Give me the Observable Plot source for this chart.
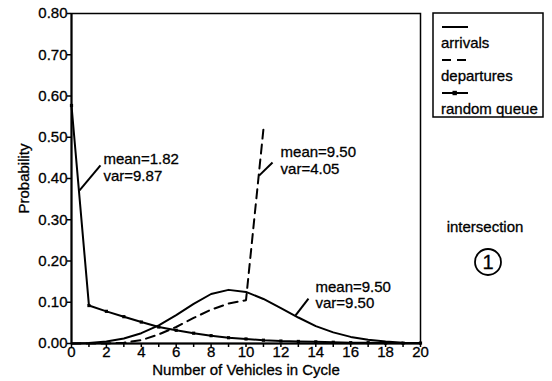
<!DOCTYPE html>
<html><head><meta charset="utf-8">
<script src="https://cdn.jsdelivr.net/npm/d3@7"></script>
<script src="https://cdn.jsdelivr.net/npm/@observablehq/plot@0.6"></script>
<style>body{margin:0;background:#fff} svg{display:block} svg text{stroke:black;stroke-width:0.3px}</style>
</head><body><div id="chart"></div>
<script>
// ---- data ----
const vehicles = [0,1,2,3,4,5,6,7,8,9,10,11,12,13,14,15,16,17,18,19,20];
const arrivals = [0.000,0.001,0.005,0.012,0.025,0.044,0.069,0.096,0.120,0.130,0.125,0.108,0.086,0.063,0.042,0.027,0.016,0.009,0.005,0.002,0.001];
const departureVehicles = [0,1,2,3,4,5,6,7,8,9,10,11];
const departures = [0.000,0.000,0.000,0.002,0.008,0.022,0.040,0.062,0.082,0.097,0.105,0.520];
const randomQueue = [0.577,0.092,0.078,0.065,0.052,0.040,0.032,0.025,0.019,0.014,0.011,0.008,0.006,0.005,0.004,0.003,0.002,0.002,0.001,0.001,0.001];
const yTicks = [0,0.1,0.2,0.3,0.4,0.5,0.6,0.7,0.8];
const xTickLabels = [0,2,4,6,8,10,12,14,16,18,20];
const seriesNames = ["arrivals","departures","random queue"];
const noteText = ["mean=1.82\nvar=9.87","mean=9.50\nvar=4.05","mean=9.50\nvar=9.50"];
const noteX = [1.83, 11.98, 13.98];
const noteY = [0.427, 0.444, 0.118];
const leaderX1 = [0.46, 10.75, 12.84];
const leaderY1 = [0.371, 0.407, 0.068];
const leaderX2 = [1.66, 11.52, 13.58];
const leaderY2 = [0.432, 0.439, 0.109];
const intersectionLabel = "intersection";
const intersectionNumber = "1";

const arrRows = vehicles.map((v,i)=>({x:v, y:arrivals[i]}));
const depRows = departureVehicles.map((v,i)=>({x:v, y:departures[i]}));
const rqRows = vehicles.map((v,i)=>({x:v, y:randomQueue[i]}));
const notes = noteText.map((t,i)=>({t, x:noteX[i], y:noteY[i]}));
const leaders = leaderX1.map((x,i)=>({x1:x, y1:leaderY1[i], x2:leaderX2[i], y2:leaderY2[i]}));

const FONT = "'Liberation Sans', Arial, Helvetica, sans-serif";

const chart = Plot.plot({
  width: 552, height: 381,
  marginLeft: 71, marginRight: 132, marginTop: 13, marginBottom: 38,
  x: {domain: [0, 20]},
  y: {domain: [0, 0.8]},
  style: {fontFamily: FONT, fontSize: "15px", color: "black", background: "white"},
  marks: [
    Plot.frame({stroke: "black", strokeWidth: 1.5}),
    Plot.ruleX([0], {stroke: "black", strokeWidth: 2}),
    Plot.ruleY([0], {stroke: "black", strokeWidth: 2}),
    Plot.axisY({ticks: yTicks, tickFormat: d3.format(".2f"), tickSize: 4, tickPadding: 0, strokeWidth: 1.5,
      label: "Probability", labelAnchor: "center", labelArrow: "none", labelOffset: 53}),
    Plot.axisX({ticks: vehicles, tickFormat: d => xTickLabels.includes(d) ? String(d) : "", tickSize: 4, tickPadding: -1, strokeWidth: 1.5,
      label: "Number of Vehicles in Cycle", labelAnchor: "center", labelArrow: "none", labelOffset: 31}),
    Plot.line(arrRows, {x: "x", y: "y", stroke: "black", strokeWidth: 2}),
    Plot.line(depRows, {x: "x", y: "y", stroke: "black", strokeWidth: 2, strokeDasharray: "9,6"}),
    Plot.line(rqRows, {x: "x", y: "y", stroke: "black", strokeWidth: 2}),
    Plot.dot(rqRows, {x: "x", y: "y", symbol: "square", r: 1.8, fill: "black"}),
    Plot.link(leaders, {x1: "x1", y1: "y1", x2: "x2", y2: "y2", stroke: "black", strokeWidth: 2}),
    Plot.text(notes, {x: "x", y: "y", text: "t", textAnchor: "start", lineHeight: 1.1, fontSize: 15, fill: "black"})
  ]
});
document.getElementById("chart").appendChild(chart);

// legend and intersection marker, drawn in the same svg
const svg = d3.select(chart);
const lg = svg.append("g").attr("font-family", FONT).attr("font-size", 15).attr("fill", "black").attr("text-anchor", "start");
lg.append("rect").attr("x", 433).attr("y", 13).attr("width", 110).attr("height", 104)
  .attr("fill", "none").attr("stroke", "black").attr("stroke-width", 1.5);
const rowY = [27, 60, 93];
const dashes = [null, "9,6", null];
seriesNames.forEach((name, i) => {
  lg.append("line").attr("x1", 442).attr("x2", 468).attr("y1", rowY[i]).attr("y2", rowY[i])
    .attr("stroke", "black").attr("stroke-width", 2).attr("stroke-dasharray", dashes[i]);
  if (i === 2) lg.append("rect").attr("x", 452.5).attr("y", rowY[i]-2.2).attr("width", 4.4).attr("height", 4.4).attr("fill", "black");
  lg.append("text").attr("x", 441).attr("y", rowY[i] + 16).attr("dy", "0.35em").text(name);
});
const ix = svg.append("g").attr("font-family", FONT).attr("fill", "black");
ix.append("text").attr("x", 485).attr("y", 227).attr("dy", "0.35em").attr("text-anchor", "middle").attr("font-size", 15).text(intersectionLabel);
ix.append("circle").attr("cx", 488).attr("cy", 262).attr("r", 13).attr("fill", "none").attr("stroke", "black").attr("stroke-width", 1.8);
ix.append("text").attr("x", 488).attr("y", 262).attr("dy", "0.36em").attr("text-anchor", "middle").attr("font-size", 20).text(intersectionNumber);
</script>
</body></html>
